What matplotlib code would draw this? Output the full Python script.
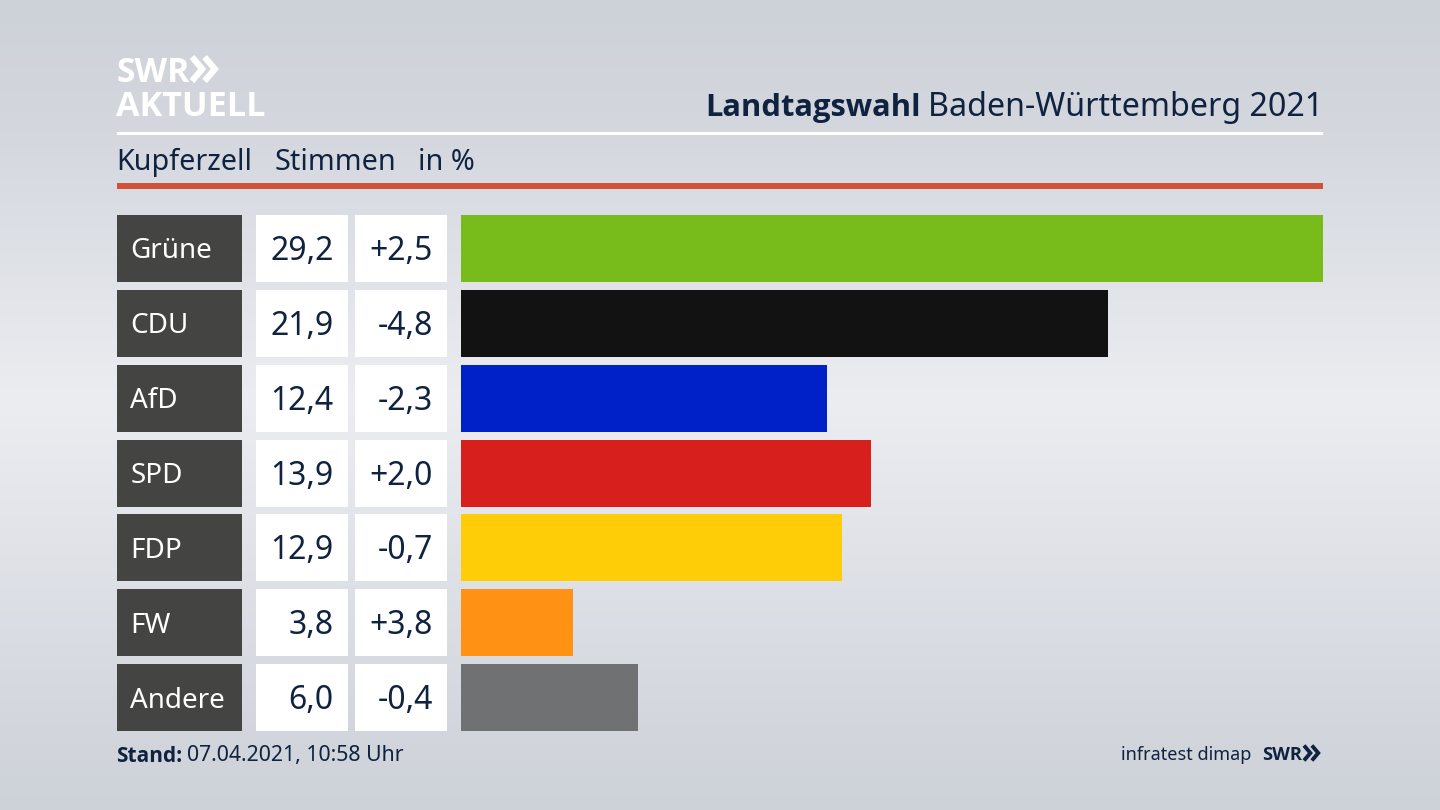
"""
Landtagswahl BW 2021, Kupferzell: share of votes per party
"""
import numpy as np
import matplotlib
matplotlib.use('Agg')
import matplotlib.pyplot as plt
from matplotlib.patches import Rectangle

plt.rcParams['font.family'] = ['Noto Sans', 'DejaVu Sans']

parties = ['Grüne', 'CDU', 'AfD', 'SPD', 'FDP', 'FW', 'Andere']
votes = [29.2, 21.9, 12.4, 13.9, 12.9, 3.8, 6.0]
changes = ['+2,5', '-4,8', '-2,3', '+2,0', '-0,7', '+3,8', '-0,4']
colors = ['#78bc1b', '#121212', '#0021c8', '#d71f1d', '#ffcc08', '#ff9114', '#707173']

navy = '#0f2240'
bold_font = ['Open Sans', 'DejaVu Sans']
W, H = 1440, 810

fig = plt.figure(figsize=(14.4, 8.1), dpi=100)

# whole picture in pixel coords for background and header
bg = fig.add_axes([0, 0, 1, 1])
bg.set_xlim(0, W)
bg.set_ylim(H, 0)
bg.axis('off')

grad_y = np.array([0, 140, 400, 620, 810])
grad_v = np.array([0.0, 0.25, 1.0, 0.45, 0.0])
shade = np.interp(np.arange(H), grad_y, grad_v)[:, None, None]
top = np.array([205, 209, 216]) / 255
mid = np.array([235, 237, 241]) / 255
bg.imshow(top + (mid - top) * shade, extent=[0, W, H, 0], aspect='auto', zorder=0)


def chevrons(x, yc, size, color, lw):
    # the two arrow heads of the SWR logo
    for dx in (0, size * 1.05):
        bg.plot([x + dx, x + dx + size * 0.85, x + dx], [yc - size, yc, yc + size],
                color=color, lw=lw, solid_joinstyle='miter', solid_capstyle='butt')


# logo
bg.text(117, 72.5, 'SWR', color='white', fontsize=24.3, family=bold_font, fontweight='bold', va='center', ha='left')
chevrons(192, 69, 12, 'white', 4.5)
bg.text(116, 107, 'AKTUELL', color='white', fontsize=24.6, family=bold_font, fontweight='bold', va='center', ha='left')

# title
bg.text(1323, 108, 'Baden-Württemberg 2021', color=navy, fontsize=23.2, va='center', ha='right')
bg.text(921, 108, 'Landtagswahl', color=navy, fontsize=22.2, family=bold_font, fontweight='bold', va='center', ha='right')

bg.add_patch(Rectangle((117, 132), 1206, 3, color='white', lw=0))
bg.text(116, 162, 'Kupferzell', color=navy, fontsize=20.7, va='center')
bg.text(274, 162, 'Stimmen', color=navy, fontsize=20.7, va='center')
bg.text(418, 162, 'in %', color=navy, fontsize=20.7, va='center')
bg.add_patch(Rectangle((117, 183), 1206, 6, color='#cf5238', lw=0))

# table cells left of the bars
row_top = 215
row_step = 74.85
row_h = 67
for i, party in enumerate(parties):
    y = row_top + i * row_step
    yc = y + row_h / 2
    bg.add_patch(Rectangle((117, y), 124.5, row_h, color='#444442', lw=0))
    bg.add_patch(Rectangle((256, y), 92, row_h, color='white', lw=0))
    bg.add_patch(Rectangle((355, y), 92, row_h, color='white', lw=0))
    bg.text(130.5, yc + 3, party, color='white', fontsize=20, va='center', ha='left')
    bg.text(333.5, yc + 3, f'{votes[i]:.1f}'.replace('.', ','), color=navy, fontsize=23, va='center', ha='right')
    bg.text(433, yc + 3, changes[i], color=navy, fontsize=23, va='center', ha='right')

# footer
bg.text(116.5, 756, 'Stand:', color=navy, fontsize=15, family=bold_font, fontweight='bold', va='center')
bg.text(187, 756, '07.04.2021, 10:58 Uhr', color=navy, fontsize=15.3, va='center')
bg.text(1251, 755, 'infratest dimap', color=navy, fontsize=13, va='center', ha='right')
bg.text(1302, 755, 'SWR', color=navy, fontsize=13.2, family=bold_font, fontweight='bold', va='center', ha='right')
chevrons(1304, 753, 7.5, navy, 2.8)

# bars
ax = fig.add_axes([461 / W, 1 - (row_top + 6 * row_step + row_h) / H,
                   (1323 - 461) / W, (6 * row_step + row_h) / H])
ax.patch.set_alpha(0)
ax.barh(range(len(parties)), votes, height=row_h / row_step, color=colors)
ax.set_xlim(0, 29.2)
ax.set_ylim(6 + row_h / row_step / 2, -row_h / row_step / 2)
ax.axis('off')

fig.savefig('out.png', dpi=100)
